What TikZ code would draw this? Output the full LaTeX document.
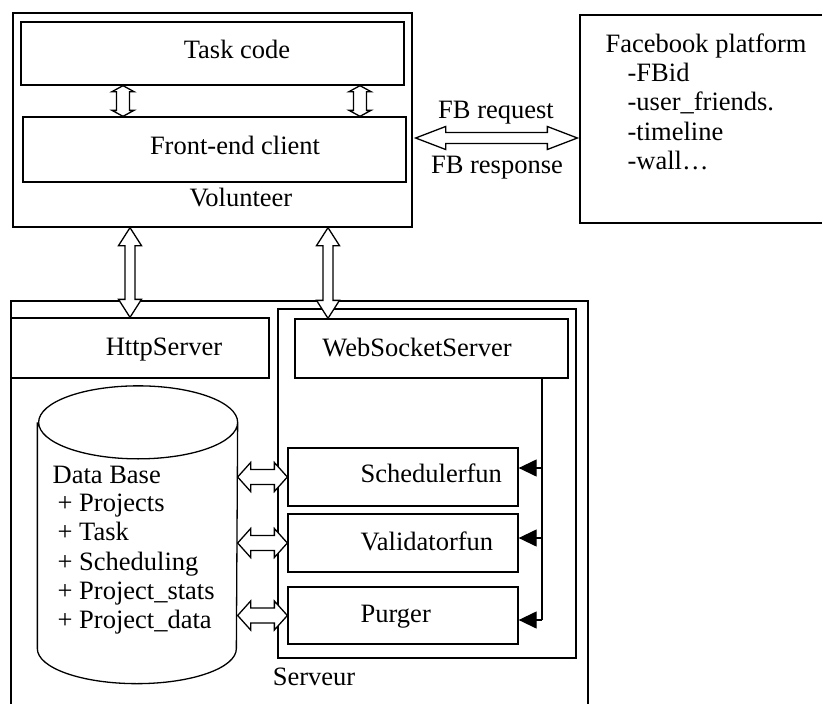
\documentclass[tikz,border=0pt]{standalone}
\usepackage{fontspec}
\setmainfont{Liberation Serif}
\usetikzlibrary{arrows.meta,calc,positioning}

\tikzset{
    hollow/.style n args={3}{fill=white, to path={let \p1=(\tikztostart), \p2=(\tikztotarget), \n1={atan2(\y2-\y1,\x2-\x1)} in
        -- ($(\p1)+(\n1:#1)+(\n1+90:#2)$) -- ($(\p1)+(\n1:#1)+(\n1+90:#3)$)
        -- ($(\p2)+(\n1+180:#1)+(\n1+90:#3)$) -- ($(\p2)+(\n1+180:#1)+(\n1+90:#2)$)
        -- (\p2)
        -- ($(\p2)+(\n1+180:#1)+(\n1-90:#2)$) -- ($(\p2)+(\n1+180:#1)+(\n1-90:#3)$)
        -- ($(\p1)+(\n1:#1)+(\n1-90:#3)$) -- ($(\p1)+(\n1:#1)+(\n1-90:#2)$) -- cycle}}
}

\begin{document}
\begin{tikzpicture}[
    x=1pt, y=-1pt,
    line width=1.3pt,
    every node/.style={font=\fontsize{26.5}{30}\selectfont},
    box/.style={rectangle, draw, inner sep=0pt},
    txt/.style={inner sep=0pt, anchor=base},
    ltxt/.style={inner sep=0pt, anchor=base west},
    bus/.style={-{Triangle[length=18pt, width=17pt]}}
]
    \useasboundingbox (0,0) rectangle (822,704);

    % Volunteer
    \node[box, minimum width=399pt, minimum height=214pt] (volunteer) at (212.5,120) {};
    \node[box, minimum width=383pt, minimum height=63pt] (taskcode) at (212.5,53.5) {};
    \node[box, minimum width=383pt, minimum height=65pt] (frontend) at (214.5,149.5) {};
    \node[txt] (tasklbl) at (237,58) {Task code};
    \node[txt] (frontlbl) at (235,154) {Front-end client};
    \node[txt] (vollbl) at (241,206.5) {Volunteer};

    % Facebook
    \node[box, minimum width=250pt, minimum height=208pt] (facebook) at (705,119) {};
    \node[ltxt] (fbtitle) at (605,52.5) {Facebook platform};
    \node[ltxt] (fbid) at (627,81) {-FBid};
    \node[ltxt] (fbfriends) at (627,110.5) {-user\_friends.};
    \node[ltxt] (fbtimeline) at (627,140) {-timeline};
    \node[ltxt] (fbwall) at (627,169.5) {-wall…};
    \node[txt] (fbreq) at (496,118) {FB request};
    \node[txt] (fbresp) at (497,173) {FB response};

    % Serveur
    \node[box, minimum width=577pt, minimum height=438pt] (serveur) at (299.5,520) {};
    \node[box, minimum width=258pt, minimum height=60pt] (httpserver) at (140,348) {};
    \node[box, minimum width=298pt, minimum height=349pt] (wsregion) at (427,483.5) {};
    \node[box, minimum width=273pt, minimum height=59pt] (wsserver) at (431.5,348.5) {};
    \node[box, minimum width=230pt, minimum height=58pt] (schedfun) at (403,477) {};
    \node[box, minimum width=230pt, minimum height=58pt] (validfun) at (403,543) {};
    \node[box, minimum width=230pt, minimum height=57pt] (purger) at (403,615.5) {};
    \node[txt] (httplbl) at (164,355) {HttpServer};
    \node[txt] (wslbl) at (417,356) {WebSocketServer};
    \node[ltxt] (schedlbl) at (360,482.5) {Schedulerfun};
    \node[ltxt] (validlbl) at (360,550.5) {Validatorfun};
    \node[ltxt] (purgelbl) at (360,622.5) {Purger};
    \node[txt] (servlbl) at (314,685) {Serveur};

    % Data base
    \node[inner sep=0pt, minimum width=199pt, minimum height=225pt] (dbase) at (137.5,535.5) {};
    \draw (dbase.north west) -- (dbase.south west)
        arc[start angle=180, end angle=360, x radius=99.5pt, y radius=35pt]
        -- (dbase.north east)
        arc[start angle=0, end angle=360, x radius=99.5pt, y radius=36.5pt];
    \node[ltxt] (dblbl) at (52,483) {Data Base};
    \node[ltxt] (dbprojects) at (57,511.5) {+ Projects};
    \node[ltxt] (dbtask) at (57,540.5) {+ Task};
    \node[ltxt] (dbsched) at (57,570) {+ Scheduling};
    \node[ltxt] (dbstats) at (57,599.5) {+ Project\_stats};
    \node[ltxt] (dbdata) at (57,628) {+ Project\_data};

    % Hollow arrows
    \draw[hollow={6pt}{11pt}{6.5pt}] ([xshift=-89.5pt]taskcode.south) to ([xshift=-89.5pt]taskcode.south |- frontend.north);
    \draw[hollow={6pt}{11pt}{6.5pt}] ([xshift=147.5pt]taskcode.south) to ([xshift=147.5pt]taskcode.south |- frontend.north);
    \draw[hollow={18pt}{11.5pt}{5pt}] ([xshift=-82.5pt]volunteer.south) to ([xshift=-82.5pt]volunteer.south |- httpserver.north);
    \draw[hollow={18pt}{11.5pt}{5pt}] ([xshift=115.5pt]volunteer.south) to ([xshift=115.5pt]volunteer.south |- wsserver.north);
    \draw[hollow={30pt}{11.5pt}{5.5pt}] ([shift={(3pt,-18pt)}]volunteer.east) to ([shift={(-2pt,-18pt)}]volunteer.east -| facebook.west);
    \draw[hollow={13pt}{14.5pt}{7.5pt}] (dbase.east |- schedfun.west) to (schedfun.west);
    \draw[hollow={13pt}{14.5pt}{7.5pt}] (dbase.east |- validfun.west) to (validfun.west);
    \draw[hollow={13pt}{14.5pt}{7.5pt}] (dbase.east |- purger.west) to (purger.west);

    % Bus
    \coordinate (bustop) at ([xshift=110.5pt]wsserver.south);
    \coordinate (schedin) at ([yshift=9pt]schedfun.east);
    \coordinate (validin) at ([yshift=5pt]validfun.east);
    \coordinate (purgein) at ([yshift=-4.5pt]purger.east);
    \draw (bustop) -- (bustop |- purgein);
    \draw[bus] (bustop |- schedin) -- (schedin);
    \draw[bus] (bustop |- validin) -- (validin);
    \draw[bus] (bustop |- purgein) -- (purgein);
\end{tikzpicture}
\end{document}
